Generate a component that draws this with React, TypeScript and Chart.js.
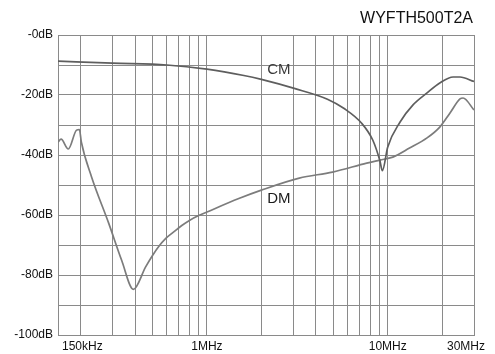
import React, { useEffect, useRef } from 'react';
import { Chart, registerables } from 'chart.js';

Chart.register(...registerables);

// Frequencies in MHz, attenuation in dB
const CM_FREQ = [0.15, 0.3, 0.6, 1.0, 1.6, 2.0, 3.04, 4.64, 5.77, 7.17, 8.26, 9.03, 9.34, 10.0, 11.7, 13.8, 16.5, 19.4, 23.0, 25.1, 30.0];
const CM_DB = [-8.7, -9.4, -10.0, -11.4, -13.5, -14.8, -17.8, -21.4, -24.6, -29.4, -35.0, -41.7, -45.2, -37.3, -29.0, -23.3, -19.3, -16.0, -14.0, -14.0, -15.5];

const DM_FREQ = [0.15, 0.156, 0.171, 0.19, 0.197, 0.202, 0.23, 0.286, 0.337, 0.392, 0.458, 0.5, 0.541, 0.592, 0.65, 0.726, 0.8, 0.9, 1.0, 1.5, 2.0, 3.24, 4.95, 7.65, 9.03, 10.66, 13.2, 16.5, 19.4, 22.1, 25.1, 26.1, 30.0];
const DM_DB = [-35.7, -34.7, -38.0, -31.7, -31.5, -35.7, -47.3, -62.7, -75.0, -84.8, -77.3, -73.5, -70.5, -67.8, -65.8, -63.5, -61.8, -60.2, -59.0, -54.5, -51.7, -47.7, -45.7, -42.7, -41.7, -40.7, -37.7, -34.3, -30.7, -26.0, -21.3, -21.0, -25.0];

const X_GRID = [0.15, 0.2, 0.3, 0.4, 0.5, 0.6, 0.7, 0.8, 0.9, 1, 2, 3, 4, 5, 6, 7, 8, 9, 10, 20, 30];
const X_LABEL_VALUES = [0.15, 1, 10, 30];
const X_LABEL_TEXT = ['150kHz', '1MHz', '10MHz', '30MHz'];

const Y_GRID = [0, -10, -20, -30, -40, -50, -60, -70, -80, -90, -100];
const Y_LABEL_VALUES = [0, -20, -40, -60, -80, -100];
const Y_LABEL_TEXT = ['-0dB', '-20dB', '-40dB', '-60dB', '-80dB', '-100dB'];

const TITLE = 'WYFTH500T2A';
const CURVE_NAMES = ['CM', 'DM'];
const CURVE_NAME_FREQ = [2.5, 2.5];
const CURVE_NAME_DB = [-11.7, -54.7];

const FONT = '"Liberation Sans", Arial, Helvetica, sans-serif';
const GRID = '#8a8a8a';
const TEXT = '#111111';

const overlay = {
  id: 'overlay',
  afterDraw(chart: any) {
    const ctx = chart.ctx;
    const xs = chart.scales.x;
    const ys = chart.scales.y;
    ctx.save();
    ctx.fillStyle = TEXT;
    ctx.font = `16px ${FONT}`;
    ctx.textAlign = 'right';
    ctx.textBaseline = 'middle';
    ctx.fillText(TITLE, chart.chartArea.right - 1, 19);
    ctx.font = `12px ${FONT}`;
    X_LABEL_VALUES.forEach((v, i) => {
      const px = xs.getPixelForValue(v);
      if (i === 0) {
        ctx.textAlign = 'left';
        ctx.fillText(X_LABEL_TEXT[i], px + 4, 347);
      } else if (i === X_LABEL_VALUES.length - 1) {
        ctx.textAlign = 'right';
        ctx.fillText(X_LABEL_TEXT[i], px + 11, 347);
      } else {
        ctx.textAlign = 'center';
        ctx.fillText(X_LABEL_TEXT[i], px, 347);
      }
    });
    ctx.font = `15px ${FONT}`;
    ctx.textAlign = 'center';
    CURVE_NAMES.forEach((n, i) => {
      ctx.fillStyle = i === 0 ? '#3a3a3a' : '#1c1c1c';
      ctx.fillText(n, xs.getPixelForValue(CURVE_NAME_FREQ[i]), ys.getPixelForValue(CURVE_NAME_DB[i]));
    });
    ctx.restore();
  },
};

export default function App() {
  const ref = useRef<HTMLCanvasElement | null>(null);
  useEffect(() => {
    if (!ref.current) return;
    const chart = new Chart(ref.current, {
      type: 'line',
      data: {
        datasets: [
          {
            label: 'CM',
            data: CM_FREQ.map((f, i) => ({ x: f, y: CM_DB[i] })),
            borderColor: '#5e5e5e',
            borderWidth: 1.7,
            pointRadius: 0,
            cubicInterpolationMode: 'monotone',
            fill: false,
          },
          {
            label: 'DM',
            data: DM_FREQ.map((f, i) => ({ x: f, y: DM_DB[i] })),
            borderColor: '#7c7c7c',
            borderWidth: 1.7,
            pointRadius: 0,
            cubicInterpolationMode: 'monotone',
            fill: false,
          },
        ],
      },
      options: {
        animation: false,
        responsive: false,
        devicePixelRatio: 1,
        layout: { padding: { top: 35, right: 21, left: 0, bottom: 0 } },
        plugins: { legend: { display: false }, tooltip: { enabled: false }, title: { display: false } },
        scales: {
          x: {
            type: 'logarithmic',
            min: 0.15,
            max: 30,
            afterBuildTicks: (s: any) => {
              s.ticks = X_GRID.map((v) => ({ value: v }));
            },
            afterFit: (s: any) => {
              s.height = 19;
            },
            ticks: { display: false },
            grid: { color: GRID, lineWidth: 1, drawTicks: false },
            border: { color: GRID, width: 1 },
          },
          y: {
            type: 'linear',
            min: -100,
            max: 0,
            afterBuildTicks: (s: any) => {
              s.ticks = Y_GRID.map((v) => ({ value: v }));
            },
            afterFit: (s: any) => {
              s.width = 58;
            },
            ticks: {
              padding: 5,
              color: TEXT,
              font: { family: FONT, size: 12 },
              autoSkip: false,
              callback: (v: any) => {
                const idx = Y_LABEL_VALUES.indexOf(Number(v));
                return idx >= 0 ? Y_LABEL_TEXT[idx] : '';
              },
            },
            grid: { color: GRID, lineWidth: 1, drawTicks: false },
            border: { color: GRID, width: 1 },
          },
        },
      },
      plugins: [overlay],
    });
    return () => chart.destroy();
  }, []);
  return (
    <div style={{ position: 'absolute', left: 0, top: 0, width: 495, height: 354, background: '#fff' }}>
      <canvas ref={ref} width={495} height={354} />
    </div>
  );
}
